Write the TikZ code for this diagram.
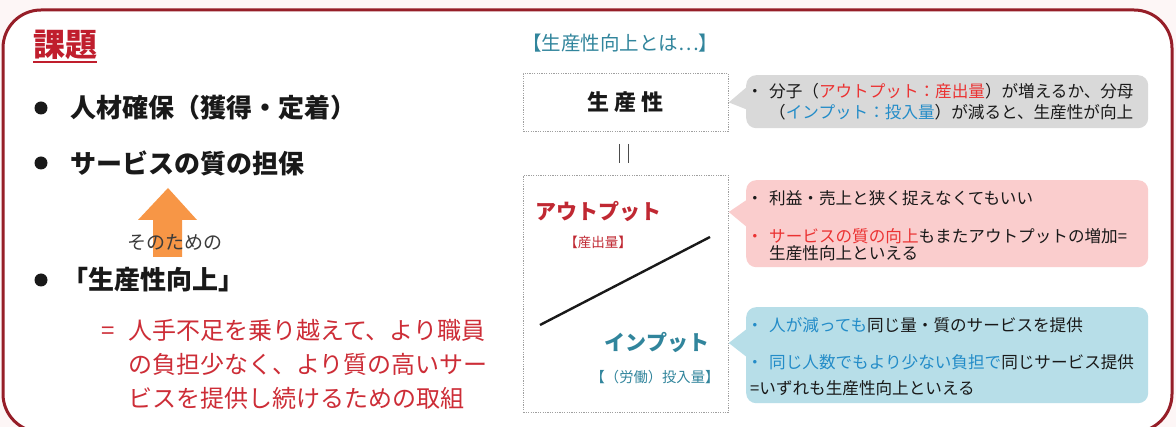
\documentclass[tikz,border=0pt]{standalone}
\usepackage{fontspec}
\newfontfamily\jp{Noto Sans CJK JP}
\usetikzlibrary{calc}
\newcommand\myfs[1]{\fontsize{#1pt}{#1pt}\selectfont}
\definecolor{kadai}{RGB}{192,30,45}
\definecolor{redtxt}{RGB}{205,45,55}
\definecolor{outred}{RGB}{192,40,50}
\definecolor{brightred}{RGB}{235,50,50}
\definecolor{tealtxt}{RGB}{49,133,156}
\definecolor{bluetxt}{RGB}{35,140,200}
\definecolor{graybg}{RGB}{217,217,217}
\definecolor{pinkbg}{RGB}{250,205,205}
\definecolor{bluebg}{RGB}{183,222,232}
\definecolor{framec}{RGB}{150,30,40}
\definecolor{orangear}{RGB}{247,150,70}
\definecolor{txt}{RGB}{25,25,25}
\definecolor{bgout}{RGB}{253,246,246}
\tikzset{
  lbl/.style={inner sep=0pt, anchor=west, text=txt},
  ctr/.style={inner sep=0pt},
  dotbox/.style={draw=gray!75, dash pattern=on 1.2pt off 1.2pt, line width=0.8pt, fill=white, inner sep=0pt, anchor=north west},
  bubble/.style={rounded corners=10pt, inner sep=0pt, anchor=north west},
  bulletdot/.style={circle, fill=txt, minimum size=13pt, inner sep=0pt},
  boldbig/.style={font=\jp\bfseries\myfs{26}},
  redline/.style={lbl, text=redtxt, font=\jp\myfs{24}},
  small/.style={lbl, font=\jp\myfs{16.6}},
}
\begin{document}
\begin{tikzpicture}[x=1pt,y=-1pt]
\useasboundingbox (0,0) rectangle (1176,427);
\begin{scope}
\clip (0,0) rectangle (1176,427);
\fill[bgout] (0,0) rectangle (1176,427);
\draw[framec, line width=3pt, fill=white, rounded corners=38pt] (3,10) rectangle (1172,432);
\end{scope}

% left column
\node[lbl, text=kadai, font=\jp\bfseries\myfs{32}] (kadai) at (33,45) {課題};
\draw[kadai, line width=1.8pt] ($(kadai.south west)+(0,2)$) -- ($(kadai.south east)+(0,2)$);

\node[bulletdot] (d1) at (41,108) {};
\node[lbl, boldbig] (t1) at (70,108) {人材確保（獲得・定着）};
\node[bulletdot] (d2) at (41,163) {};
\node[lbl, boldbig] (t2) at (70,163) {サービスの質の担保};

\fill[orangear] (153,257) -- (153,220) -- (138,220) -- (168,188) -- (197,220) -- (182,220) -- (182,257) -- cycle;
\node[lbl, font=\jp\myfs{19}, text=txt!85] (sono) at (127,242) {そのための};

\node[bulletdot] (d3) at (41,280) {};
\node[lbl, boldbig] (t3) at (62,280) {「生産性向上」};

\node[redline] (r1) at (101,330) {\makebox[27pt][l]{=}人手不足を乗り越えて、より職員};
\node[redline] (r2) at (128,364) {の負担少なく、より質の高いサー};
\node[redline] (r3) at (128,398) {ビスを提供し続けるための取組};

% right column
\node[lbl, text=tealtxt, font=\jp\myfs{19.5}] (title) at (522,43) {【生産性向上とは…】};

\node[dotbox, minimum width=205pt, minimum height=58pt, font=\jp\bfseries\myfs{22}, text=txt] (b1) at (523,73) {生 産 性};
\draw[gray!60!black, line width=0.9pt]
  ($(b1.south)+(-6.5,12)$) -- ($(b1.south)+(-6.5,31)$)
  ($(b1.south)+(2.5,12)$) -- ($(b1.south)+(2.5,31)$);

\node[dotbox, minimum width=205pt, minimum height=237pt] (b2) at (523,175) {};
\node[lbl, text=outred, font=\jp\bfseries\myfs{21}] (out) at (535,212) {アウトプット};
\node[ctr, text=outred, font=\jp\myfs{13.5}] (outs) at (598,242) {【産出量】};
\coordinate (lineA) at (540,325);
\coordinate (lineB) at (710,237);
\draw[txt, line width=2.4pt] (lineA) -- (lineB);
\node[ctr, text=tealtxt, font=\jp\bfseries\myfs{21}] (in) at (657,343) {インプット};
\node[ctr, text=tealtxt, font=\jp\myfs{14.3}] (ins) at (655,377) {【（労働）投入量】};

% callouts
\node[bubble, fill=graybg, minimum width=402pt, minimum height=53pt] (c1) at (746,75) {};
\fill[graybg] ($(c1.north west)+(2,11)$) -- (b1.east) -- ($(c1.north west)+(2,35)$) -- cycle;
\node[small] (g1) at (746.5,91) {\makebox[22.5pt][l]{・}分子（\textcolor{brightred}{アウトプット：産出量}）が増えるか、分母};
\node[small] (g2) at (769,112) {（\textcolor{bluetxt}{インプット：投入量}）が減ると、生産性が向上};

\node[bubble, fill=pinkbg, minimum width=402pt, minimum height=87pt] (c2) at (746,180) {};
\fill[pinkbg] ($(c2.north west)+(2,19)$) -- (b2.east |- out.east) -- ($(c2.north west)+(2,48)$) -- cycle;
\node[small] (p1) at (746.5,198) {\makebox[22.5pt][l]{・}利益・売上と狭く捉えなくてもいい};
\node[small] (p2) at (746.5,236) {\makebox[22.5pt][l]{\textcolor{brightred}{・}}\textcolor{brightred}{サービスの質の向上}もまたアウトプットの増加=};
\node[small] (p3) at (769,253) {生産性向上といえる};

\node[bubble, fill=bluebg, minimum width=402pt, minimum height=96pt] (c3) at (746,307) {};
\fill[bluebg] ($(c3.north west)+(2,21)$) -- (b2.east |- in.east) -- ($(c3.north west)+(2,51)$) -- cycle;
\node[small] (q1) at (746.5,325) {\makebox[22.5pt][l]{\textcolor{bluetxt}{・}}\textcolor{bluetxt}{人が減っても}同じ量・質のサービスを提供};
\node[small] (q2) at (746.5,362) {\makebox[22.5pt][l]{\textcolor{bluetxt}{・}}\textcolor{bluetxt}{同じ人数でもより少ない負担で}同じサービス提供};
\node[small] (q3) at (750,388) {=いずれも生産性向上といえる};
\end{tikzpicture}
\end{document}
